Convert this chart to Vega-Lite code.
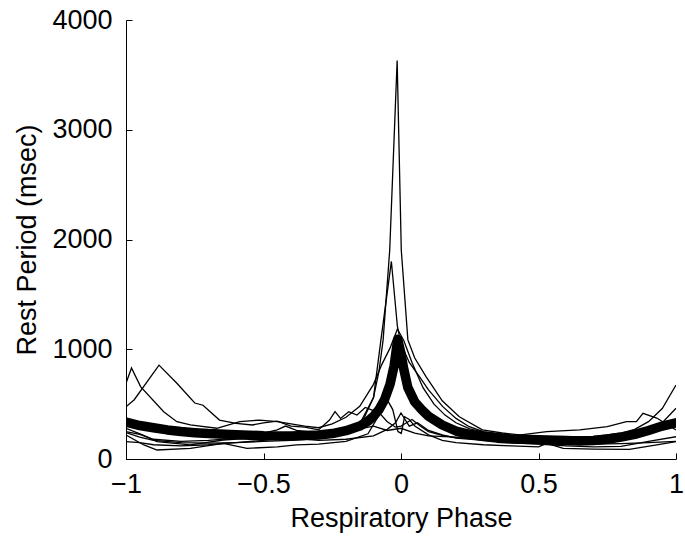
{
  "$schema": "https://vega.github.io/schema/vega-lite/v6.json",
  "autosize": "none",
  "padding": {"left": 126, "top": 20, "right": 9, "bottom": 77},
  "width": 550,
  "height": 439,
  "background": "white",
  "datasets": {
    "thin": [
      {"s":"A","x":-1,"y":240},{"s":"A","x":-0.95,"y":200},{"s":"A","x":-0.9,"y":170},{"s":"A","x":-0.8,"y":150},{"s":"A","x":-0.7,"y":145},{"s":"A","x":-0.6,"y":150},{"s":"A","x":-0.5,"y":160},{"s":"A","x":-0.4,"y":170},{"s":"A","x":-0.3,"y":185},{"s":"A","x":-0.2,"y":230},{"s":"A","x":-0.15,"y":290},{"s":"A","x":-0.1,"y":560},{"s":"A","x":-0.08,"y":800},{"s":"A","x":-0.065,"y":1085},{"s":"A","x":-0.041,"y":1904},{"s":"A","x":-0.014,"y":3630},{"s":"A","x":0.001,"y":1904},{"s":"A","x":0.025,"y":1085},{"s":"A","x":0.05,"y":920},{"s":"A","x":0.091,"y":750},{"s":"A","x":0.15,"y":530},{"s":"A","x":0.212,"y":385},{"s":"A","x":0.296,"y":265},{"s":"A","x":0.368,"y":237},{"s":"A","x":0.45,"y":215},{"s":"A","x":0.5,"y":200},{"s":"A","x":0.6,"y":190},{"s":"A","x":0.7,"y":185},{"s":"A","x":0.8,"y":195},{"s":"A","x":0.9,"y":250},{"s":"A","x":0.95,"y":330},{"s":"A","x":1,"y":462},
      {"s":"B","x":-1,"y":250},{"s":"B","x":-0.95,"y":225},{"s":"B","x":-0.9,"y":180},{"s":"B","x":-0.8,"y":160},{"s":"B","x":-0.7,"y":170},{"s":"B","x":-0.6,"y":190},{"s":"B","x":-0.5,"y":200},{"s":"B","x":-0.4,"y":215},{"s":"B","x":-0.3,"y":205},{"s":"B","x":-0.2,"y":245},{"s":"B","x":-0.15,"y":320},{"s":"B","x":-0.1,"y":560},{"s":"B","x":-0.073,"y":1085},{"s":"B","x":-0.035,"y":1800},{"s":"B","x":-0.013,"y":1205},{"s":"B","x":0,"y":1050},{"s":"B","x":0.03,"y":880},{"s":"B","x":0.067,"y":750},{"s":"B","x":0.1,"y":630},{"s":"B","x":0.152,"y":477},{"s":"B","x":0.2,"y":370},{"s":"B","x":0.248,"y":294},{"s":"B","x":0.3,"y":250},{"s":"B","x":0.4,"y":215},{"s":"B","x":0.5,"y":195},{"s":"B","x":0.6,"y":185},{"s":"B","x":0.7,"y":180},{"s":"B","x":0.8,"y":190},{"s":"B","x":0.9,"y":240},{"s":"B","x":1,"y":300},
      {"s":"C","x":-1,"y":690},{"s":"C","x":-0.98,"y":830},{"s":"C","x":-0.947,"y":660},{"s":"C","x":-0.863,"y":430},{"s":"C","x":-0.815,"y":340},{"s":"C","x":-0.766,"y":310},{"s":"C","x":-0.67,"y":280},{"s":"C","x":-0.586,"y":340},{"s":"C","x":-0.514,"y":355},{"s":"C","x":-0.45,"y":340},{"s":"C","x":-0.4,"y":320},{"s":"C","x":-0.35,"y":300},{"s":"C","x":-0.3,"y":285},{"s":"C","x":-0.25,"y":320},{"s":"C","x":-0.2,"y":380},{"s":"C","x":-0.15,"y":480},{"s":"C","x":-0.1,"y":680},{"s":"C","x":-0.07,"y":860},{"s":"C","x":-0.04,"y":1010},{"s":"C","x":-0.013,"y":1185},{"s":"C","x":0.01,"y":1080},{"s":"C","x":0.04,"y":880},{"s":"C","x":0.08,"y":650},{"s":"C","x":0.12,"y":500},{"s":"C","x":0.16,"y":400},{"s":"C","x":0.2,"y":330},{"s":"C","x":0.25,"y":275},{"s":"C","x":0.3,"y":245},{"s":"C","x":0.35,"y":228},{"s":"C","x":0.4,"y":218},{"s":"C","x":0.5,"y":205},{"s":"C","x":0.6,"y":200},{"s":"C","x":0.7,"y":205},{"s":"C","x":0.8,"y":235},{"s":"C","x":0.85,"y":270},{"s":"C","x":0.9,"y":340},{"s":"C","x":0.95,"y":460},{"s":"C","x":1,"y":674},
      {"s":"E","x":-1,"y":475},{"s":"E","x":-0.97,"y":540},{"s":"E","x":-0.88,"y":855},{"s":"E","x":-0.815,"y":690},{"s":"E","x":-0.75,"y":510},{"s":"E","x":-0.72,"y":490},{"s":"E","x":-0.66,"y":355},{"s":"E","x":-0.6,"y":325},{"s":"E","x":-0.54,"y":310},{"s":"E","x":-0.5,"y":330},{"s":"E","x":-0.45,"y":345},{"s":"E","x":-0.4,"y":300},{"s":"E","x":-0.35,"y":290},{"s":"E","x":-0.3,"y":265},{"s":"E","x":-0.26,"y":355},{"s":"E","x":-0.24,"y":431},{"s":"E","x":-0.22,"y":370},{"s":"E","x":-0.19,"y":431},{"s":"E","x":-0.16,"y":400},{"s":"E","x":-0.13,"y":470},{"s":"E","x":-0.1,"y":440},{"s":"E","x":-0.075,"y":410},{"s":"E","x":-0.05,"y":340},{"s":"E","x":-0.02,"y":290},{"s":"E","x":0,"y":300},{"s":"E","x":0.02,"y":330},{"s":"E","x":0.04,"y":360},{"s":"E","x":0.07,"y":300},{"s":"E","x":0.1,"y":250},{"s":"E","x":0.15,"y":215},{"s":"E","x":0.2,"y":195},{"s":"E","x":0.3,"y":175},{"s":"E","x":0.4,"y":165},{"s":"E","x":0.5,"y":155},{"s":"E","x":0.6,"y":140},{"s":"E","x":0.7,"y":135},{"s":"E","x":0.8,"y":140},{"s":"E","x":0.9,"y":150},{"s":"E","x":1,"y":160},
      {"s":"F","x":-1,"y":280},{"s":"F","x":-0.94,"y":219},{"s":"F","x":-0.887,"y":158},{"s":"F","x":-0.766,"y":128},{"s":"F","x":-0.646,"y":173},{"s":"F","x":-0.55,"y":190},{"s":"F","x":-0.5,"y":235},{"s":"F","x":-0.45,"y":265},{"s":"F","x":-0.42,"y":300},{"s":"F","x":-0.38,"y":260},{"s":"F","x":-0.3,"y":240},{"s":"F","x":-0.2,"y":255},{"s":"F","x":-0.15,"y":275},{"s":"F","x":-0.1,"y":300},{"s":"F","x":-0.05,"y":260},{"s":"F","x":0,"y":280},{"s":"F","x":0.05,"y":235},{"s":"F","x":0.1,"y":210},{"s":"F","x":0.2,"y":200},{"s":"F","x":0.3,"y":195},{"s":"F","x":0.4,"y":205},{"s":"F","x":0.45,"y":225},{"s":"F","x":0.53,"y":250},{"s":"F","x":0.65,"y":265},{"s":"F","x":0.75,"y":295},{"s":"F","x":0.82,"y":340},{"s":"F","x":0.856,"y":340},{"s":"F","x":0.88,"y":416},{"s":"F","x":0.93,"y":373},{"s":"F","x":1,"y":264},
      {"s":"G","x":-1,"y":219},{"s":"G","x":-0.935,"y":128},{"s":"G","x":-0.887,"y":82},{"s":"G","x":-0.766,"y":97},{"s":"G","x":-0.646,"y":143},{"s":"G","x":-0.56,"y":97},{"s":"G","x":-0.45,"y":110},{"s":"G","x":-0.38,"y":128},{"s":"G","x":-0.3,"y":135},{"s":"G","x":-0.2,"y":160},{"s":"G","x":-0.12,"y":230},{"s":"G","x":-0.08,"y":400},{"s":"G","x":-0.053,"y":553},{"s":"G","x":-0.03,"y":450},{"s":"G","x":-0.011,"y":250},{"s":"G","x":0.001,"y":233},{"s":"G","x":0.013,"y":385},{"s":"G","x":0.03,"y":360},{"s":"G","x":0.05,"y":300},{"s":"G","x":0.1,"y":220},{"s":"G","x":0.15,"y":170},{"s":"G","x":0.2,"y":150},{"s":"G","x":0.3,"y":130},{"s":"G","x":0.4,"y":120},{"s":"G","x":0.5,"y":110},{"s":"G","x":0.53,"y":143},{"s":"G","x":0.59,"y":97},{"s":"G","x":0.7,"y":90},{"s":"G","x":0.83,"y":88},{"s":"G","x":0.93,"y":128},{"s":"G","x":1,"y":158},
      {"s":"H","x":-1,"y":158},{"s":"H","x":-0.95,"y":150},{"s":"H","x":-0.9,"y":130},{"s":"H","x":-0.8,"y":120},{"s":"H","x":-0.7,"y":130},{"s":"H","x":-0.6,"y":150},{"s":"H","x":-0.5,"y":170},{"s":"H","x":-0.45,"y":185},{"s":"H","x":-0.4,"y":190},{"s":"H","x":-0.3,"y":170},{"s":"H","x":-0.2,"y":180},{"s":"H","x":-0.1,"y":210},{"s":"H","x":-0.05,"y":270},{"s":"H","x":-0.02,"y":330},{"s":"H","x":0,"y":420},{"s":"H","x":0.03,"y":300},{"s":"H","x":0.06,"y":330},{"s":"H","x":0.1,"y":260},{"s":"H","x":0.15,"y":220},{"s":"H","x":0.2,"y":190},{"s":"H","x":0.3,"y":170},{"s":"H","x":0.4,"y":150},{"s":"H","x":0.5,"y":135},{"s":"H","x":0.6,"y":120},{"s":"H","x":0.7,"y":110},{"s":"H","x":0.8,"y":115},{"s":"H","x":0.9,"y":160},{"s":"H","x":1,"y":203}
    ],
    "mean": [
      {"x":-1,"y":335},{"x":-0.95,"y":305},{"x":-0.9,"y":285},{"x":-0.85,"y":265},{"x":-0.8,"y":250},{"x":-0.75,"y":240},{"x":-0.7,"y":232},{"x":-0.6,"y":222},{"x":-0.5,"y":212},{"x":-0.4,"y":210},{"x":-0.3,"y":218},{"x":-0.25,"y":232},{"x":-0.2,"y":258},{"x":-0.15,"y":300},{"x":-0.12,"y":345},{"x":-0.1,"y":390},{"x":-0.08,"y":450},{"x":-0.06,"y":540},{"x":-0.04,"y":680},{"x":-0.025,"y":850},{"x":-0.012,"y":1090},{"x":0,"y":960},{"x":0.01,"y":820},{"x":0.025,"y":650},{"x":0.05,"y":520},{"x":0.075,"y":450},{"x":0.1,"y":390},{"x":0.15,"y":310},{"x":0.2,"y":255},{"x":0.25,"y":225},{"x":0.3,"y":205},{"x":0.35,"y":190},{"x":0.4,"y":182},{"x":0.5,"y":175},{"x":0.6,"y":168},{"x":0.65,"y":165},{"x":0.7,"y":168},{"x":0.75,"y":180},{"x":0.8,"y":200},{"x":0.85,"y":225},{"x":0.9,"y":260},{"x":0.95,"y":300},{"x":1,"y":330}
    ]
  },
  "encoding": {
    "x": {
      "field": "x", "type": "quantitative",
      "scale": {"domain": [-1, 1], "nice": false},
      "axis": {"values": [-1, -0.5, 0, 0.5, 1], "format": ".1~f", "labelPadding": 18, "title": "Respiratory Phase", "titlePadding": 8, "labelFlush": false, "labelOverlap": false}
    },
    "y": {
      "field": "y", "type": "quantitative",
      "scale": {"domain": [0, 4000], "nice": false},
      "axis": {"values": [0, 1000, 2000, 3000, 4000], "format": "d", "labelPadding": 20, "title": "Rest Period (msec)", "titlePadding": 10, "labelFlush": false, "labelOverlap": false}
    }
  },
  "layer": [
    {
      "data": {"name": "thin"},
      "mark": {"type": "line", "color": "black", "strokeWidth": 1.3, "clip": true},
      "encoding": {"detail": {"field": "s", "type": "nominal"}}
    },
    {
      "data": {"name": "mean"},
      "mark": {"type": "line", "color": "black", "strokeWidth": 9.5, "strokeCap": "round", "strokeJoin": "round", "clip": true}
    }
  ],
  "config": {
    "view": {"stroke": null},
    "axis": {
      "domainColor": "black", "domainWidth": 1, "tickColor": "black", "tickWidth": 1, "tickSize": -6,
      "labelColor": "black", "titleColor": "black",
      "labelFont": "Liberation Sans", "titleFont": "Liberation Sans",
      "labelFontSize": 27, "titleFontSize": 27, "titleFontWeight": "normal", "grid": false
    }
  }
}
